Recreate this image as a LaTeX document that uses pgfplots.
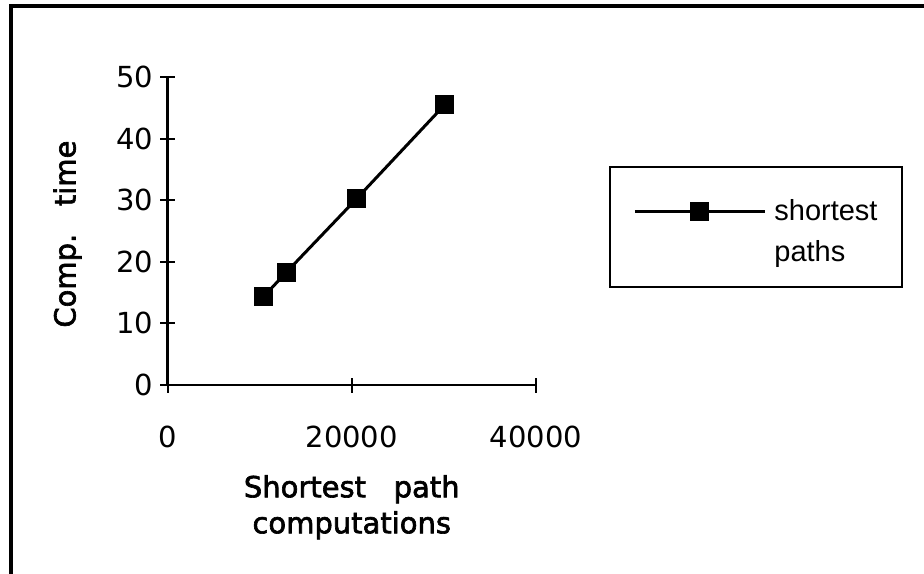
\documentclass[border=0pt]{standalone}
\usepackage{pgfplots}
\pgfplotsset{compat=1.18}
\usepackage{fontspec}
\setmainfont{DejaVu Sans}
\newfontfamily\labfont[FakeBold=2.2]{DejaVu Sans}
\newfontfamily\legfont{Liberation Sans}
\begin{document}
\begin{tikzpicture}
\useasboundingbox (0,0) rectangle (462pt,286.5pt);
\begin{axis}[
  at={(83.75pt,94pt)}, anchor=origin,
  scale only axis, width=184.25pt, height=154pt,
  xmin=0, xmax=40000, ymin=0, ymax=50,
  axis lines=left, axis line style={-, line width=1.2pt},
  xtick={0,20000,40000}, ytick={0,10,20,30,40,50},
  scaled x ticks=false,
  /pgf/number format/1000 sep={},
  /pgf/number format/assume math mode=true,
  tick align=center, major tick length=7.5pt,
  every tick/.style={black, line width=1pt},
  ticklabel style={font=\fontsize{14.5}{17}\selectfont},
  xticklabel style={yshift=-13pt},
  yticklabel style={xshift=0pt},
  xlabel={\labfont Shortest\ \ \ path\\\labfont computations},
  ylabel={\labfont Comp.\ \ \ time},
  every axis x label/.style={at={(axis description cs:0.5,-0.27)}, anchor=north, align=center, font=\fontsize{14.5}{18}\selectfont},
  every axis y label/.style={at={(axis description cs:-0.2714,0.49)}, anchor=center, rotate=90, font=\fontsize{14.5}{18}\selectfont},
  legend style={draw=none, fill=none, at={(axis description cs:1.2632,0.615)}, anchor=north west, inner sep=0pt, row sep=4pt, column sep=2pt, font=\legfont\fontsize{14.5}{17}\selectfont, cells={anchor=west}},
  legend image code/.code={\draw[mark repeat=2,mark phase=2,#1] plot coordinates {(0pt,0pt) (32.5pt,0pt) (65pt,0pt)};},
  clip=false,
]
\addplot[black, line width=1.5pt, mark=square*, mark size=4pt, mark options={solid}] coordinates {
  (10400,14.3) (12900,18.3) (20500,30.2) (30100,45.5)
};
\addlegendentry{shortest}
\addlegendimage{empty legend}
\addlegendentry{paths}
\end{axis}
\draw[line width=1pt] (305pt,143pt) rectangle (451pt,203pt);
\draw[line width=1.6pt] (5.5pt,-10pt) -- (5.5pt,283.5pt) -- (480pt,283.5pt);
\end{tikzpicture}
\end{document}
